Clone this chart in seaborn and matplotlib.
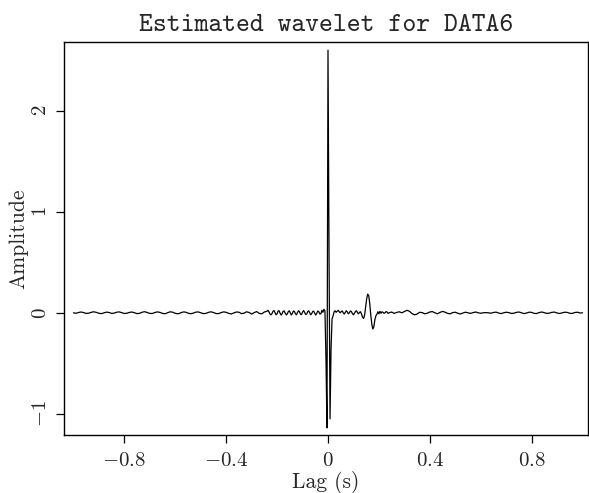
import numpy as np
import pandas as pd
import matplotlib
matplotlib.use("Agg")
import matplotlib.pyplot as plt
import seaborn as sns

# ---- data ----
# left tail: lag -1.00 .. -0.25, step 0.01
left_amp = [0.000, -0.005, 0.003, 0.008, 0.002, -0.006, -0.004, 0.005, 0.010, 0.004,
            -0.005, -0.008, 0.000, 0.007, 0.003, -0.006, -0.003, 0.006, 0.009, 0.001,
            -0.007, -0.004, 0.004, 0.008, 0.000, -0.008, -0.005, 0.006, 0.011, 0.002,
            -0.006, -0.007, 0.003, 0.009, 0.004, -0.006, -0.009, 0.001, 0.010, 0.006,
            -0.005, -0.010, -0.002, 0.008, 0.007, -0.003, -0.009, -0.004, 0.006, 0.009,
            0.000, -0.008, -0.006, 0.004, 0.010, 0.003, -0.007, -0.008, 0.002, 0.009,
            0.005, -0.006, -0.011, -0.002, 0.008, 0.006, -0.008, -0.004, 0.010, 0.003,
            -0.012, 0.002, 0.012, -0.006, -0.010, 0.008]
# centre: lag -0.24 .. 0.24, step 0.004
center_amp = [0.015, 0.025, 0.010, -0.012, -0.020, -0.008, 0.015, 0.022, 0.002, -0.020,
              -0.010, 0.018, 0.020, -0.005, -0.022, -0.008, 0.016, 0.018, -0.004, -0.020,
              -0.012, 0.012, 0.020, 0.000, -0.022, -0.006, 0.018, 0.014, -0.010, -0.020,
              0.002, 0.020, 0.010, -0.014, -0.018, 0.006, 0.022, 0.006, -0.016, -0.014,
              0.010, 0.020, 0.000, -0.020, -0.008, 0.014, 0.016, -0.006, -0.022, -0.004,
              0.018, 0.010, -0.012, -0.010, 0.025, 0.005, 0.035, 0.020, -0.450, -1.140,
              2.600, 0.600, -1.050, -0.350, -0.060, -0.030, 0.010, 0.020, 0.005, 0.015,
              0.025, 0.010, 0.000, 0.012, 0.018, 0.000, -0.012, 0.005, 0.020, 0.008,
              -0.010, 0.000, 0.018, 0.012, -0.008, -0.020, -0.005, 0.015, 0.020, 0.000,
              -0.010, 0.005, 0.010, -0.015, -0.045, -0.055, -0.020, 0.060, 0.140, 0.185,
              0.170, 0.090, -0.020, -0.110, -0.160, -0.140, -0.070, -0.030, -0.015, 0.010,
              -0.010, 0.015, -0.005, 0.010, 0.005, -0.005, 0.000, 0.012, 0.008, -0.005,
              0.000]
# right tail: lag 0.25 .. 1.00, step 0.01
right_amp = [0.008, -0.006, 0.004, 0.010, 0.000, 0.012, 0.025, 0.015, -0.008, -0.020,
             -0.012, 0.005, 0.002, -0.010, -0.004, 0.008, 0.012, 0.000, -0.010, 0.004,
             0.014, 0.006, -0.006, -0.010, 0.002, 0.006, -0.004, -0.012, -0.002, 0.006,
             0.000, -0.006, 0.002, 0.008, 0.000, -0.004, 0.000, 0.002, 0.000, -0.004,
             0.003, 0.007, -0.002, -0.008, 0.000, 0.006, 0.002, -0.006, -0.004, 0.004,
             0.008, 0.000, -0.008, -0.002, 0.006, 0.004, -0.006, -0.007, 0.003, 0.008,
             0.001, -0.006, -0.003, 0.005, 0.007, -0.002, -0.007, 0.000, 0.006, 0.004,
             -0.005, -0.006, 0.003, 0.006, -0.002, 0.000]

left_lag = np.linspace(-1.0, -0.25, len(left_amp))
center_lag = np.linspace(-0.24, 0.24, len(center_amp))
right_lag = np.linspace(0.25, 1.0, len(right_amp))

xticks = [-0.8, -0.4, 0.0, 0.4, 0.8]
xticklabels = [r"$-0.8$", r"$-0.4$", r"$0$", r"$0.4$", r"$0.8$"]
yticks = [-1, 0, 1, 2]
yticklabels = [r"$-1$", r"$0$", r"$1$", r"$2$"]

df = pd.DataFrame({
    "lag": np.concatenate([left_lag, center_lag, right_lag]),
    "amp": np.concatenate([left_amp, center_amp, right_amp]),
})

# ---- style ----
sns.set_style("ticks")
plt.rcParams["font.family"] = ["cmr10", "DejaVu Serif"]
plt.rcParams["mathtext.fontset"] = "cm"
plt.rcParams["axes.unicode_minus"] = False
plt.rcParams["axes.formatter.use_mathtext"] = True

fig = plt.figure(figsize=(5.89, 4.93), dpi=100)
ax = fig.add_axes([0.1087, 0.1176, 0.889, 0.797])

sns.lineplot(data=df, x="lag", y="amp", ax=ax, color="black", linewidth=0.9,
             estimator=None, sort=False)

ax.set_xlim(-1.037, 1.02)
ax.set_ylim(-1.21, 2.68)
ax.set_xticks(xticks)
ax.set_xticklabels(xticklabels, fontsize=15)
ax.set_yticks(yticks)
ax.set_yticklabels(yticklabels, fontsize=15, rotation=90, va="center")

for s in ax.spines.values():
    s.set_visible(True)
    s.set_linewidth(1.0)
    s.set_color("black")

ax.tick_params(axis="both", direction="out", length=6, width=0.9, color="black")
ax.tick_params(axis="x", pad=6)
ax.tick_params(axis="y", pad=4)

ax.set_xlabel("Lag (s)", fontsize=15.5, labelpad=1)
ax.set_ylabel("Amplitude", fontsize=15.5, labelpad=3)
ax.set_title("Estimated wavelet for DATA6", fontsize=19,
             family=["cmtt10", "DejaVu Sans Mono"], pad=8)

fig.savefig("out.png", dpi=100)
